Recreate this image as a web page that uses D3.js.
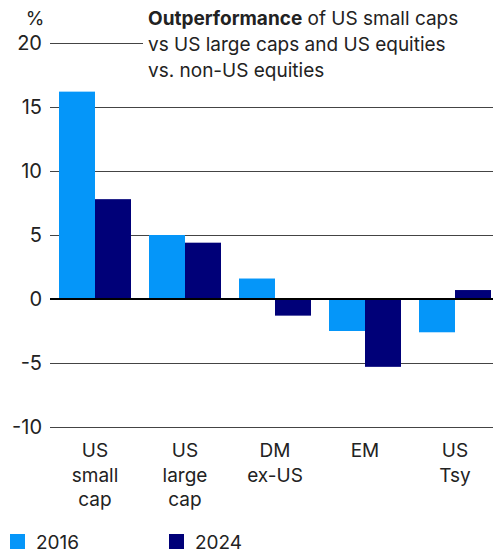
<!DOCTYPE html>
<html>
<head>
<meta charset="utf-8">
<script src="https://cdn.jsdelivr.net/npm/d3@7"></script>
<style>
  body { margin: 0; background: #fff; }
  text { font-family: Inter, "Noto Sans", sans-serif; fill: #222; }
</style>
</head>
<body>
<div id="chart"></div>
<script>
(function () {

  var width = 493, height = 554

  // data
  var categories = ['US small cap', 'US large cap', 'DM ex-US', 'EM', 'US Tsy']
  var categoryLines = [['US', 'small', 'cap'], ['US', 'large', 'cap'], ['DM', 'ex-US'], ['EM'], ['US', 'Tsy']]
  var series = ['2016', '2024']
  var values2016 = [16.2, 5.0, 1.6, -2.5, -2.6]
  var values2024 = [7.8, 4.4, -1.3, -5.3, 0.7]
  var yTicks = [-10, -5, 0, 5, 10, 15, 20]
  var colors = ['#0596f9', '#000078']

  var datapoints = categories.map(function (c, i) {
    return { category: c, lines: categoryLines[i], values: [values2016[i], values2024[i]] }
  })

  var svg = d3.select("#chart")
    .append("svg")
    .attr("width", width)
    .attr("height", height)

  var xPositionScale = d3.scaleBand()
    .domain(categories)
    .range([50, 500])
    .paddingInner(0.2)
    .paddingOuter(0.1)

  var xInner = d3.scaleBand()
    .domain(series)
    .range([0, xPositionScale.bandwidth()])

  var yPositionScale = d3.scaleLinear()
    .domain([-10, 20])
    .range([427, 43])

  // gridlines + tick labels
  var yAxis = d3.axisLeft(yPositionScale)
    .tickValues(yTicks)
    .tickSize(-(width - 50))
    .tickPadding(8)
    .tickFormat(function (d) { return d })

  var yg = svg.append("g")
    .attr("class", "axis y-axis")
    .attr("transform", "translate(50,0)")
    .call(yAxis)
  yg.select(".domain").remove()
  yg.selectAll(".tick line")
    .attr("stroke", "#444")
    .attr("stroke-width", 1)
  yg.selectAll(".tick text")
    .attr("font-size", 20)
    .attr("x", -8)
    .style("fill", "#222")

  svg.append("text")
    .attr("x", 35)
    .attr("y", 25)
    .attr("text-anchor", "middle")
    .attr("font-size", 19)
    .text("%")

  // title with white box knocking out the top gridline
  var title = svg.append("g")
  title.append("rect")
    .attr("x", 143)
    .attr("y", 0)
    .attr("width", 350)
    .attr("height", 82)
    .attr("fill", "#fff")
  var t = title.append("text")
    .attr("x", 148)
    .attr("font-size", 19)
  var l1 = t.append("tspan").attr("x", 148).attr("y", 25)
  l1.append("tspan").attr("font-weight", "bold").text("Outperformance")
  l1.append("tspan").text(" of US small caps")
  t.append("tspan").attr("x", 148).attr("y", 51).text("vs US large caps and US equities")
  t.append("tspan").attr("x", 148).attr("y", 77).text("vs. non-US equities")

  // bars
  var groups = svg.selectAll(".group")
    .data(datapoints)
    .enter().append("g")
    .attr("class", "group")
    .attr("transform", function (d) {
      return "translate(" + xPositionScale(d.category) + ",0)"
    })

  groups.selectAll("rect")
    .data(function (d) {
      return d.values.map(function (v, i) { return { key: series[i], value: v } })
    })
    .enter().append("rect")
    .attr("x", function (d) { return xInner(d.key) })
    .attr("y", function (d) { return yPositionScale(Math.max(0, d.value)) })
    .attr("width", xInner.bandwidth())
    .attr("height", function (d) {
      return Math.abs(yPositionScale(d.value) - yPositionScale(0))
    })
    .attr("fill", function (d, i) { return colors[i] })

  // zero line
  svg.append("line")
    .attr("x1", 50)
    .attr("x2", width)
    .attr("y1", yPositionScale(0))
    .attr("y2", yPositionScale(0))
    .attr("stroke", "#000")
    .attr("stroke-width", 2)

  // category labels
  groups.append("text")
    .attr("text-anchor", "middle")
    .attr("font-size", 19)
    .attr("x", xPositionScale.bandwidth() / 2)
    .selectAll("tspan")
    .data(function (d) { return d.lines })
    .enter().append("tspan")
    .attr("x", xPositionScale.bandwidth() / 2)
    .attr("y", function (d, i) { return 457 + i * 24.5 })
    .text(function (d) { return d })

  // legend
  var legend = svg.selectAll(".legend")
    .data(series)
    .enter().append("g")
    .attr("class", "legend")
    .attr("transform", function (d, i) { return "translate(" + (10 + i * 159) + ",0)" })
  legend.append("rect")
    .attr("y", 534)
    .attr("width", 15)
    .attr("height", 15)
    .attr("fill", function (d, i) { return colors[i] })
  legend.append("text")
    .attr("x", 26)
    .attr("y", 549)
    .attr("font-size", 19)
    .text(function (d) { return d })

})()
</script>
</body>
</html>
